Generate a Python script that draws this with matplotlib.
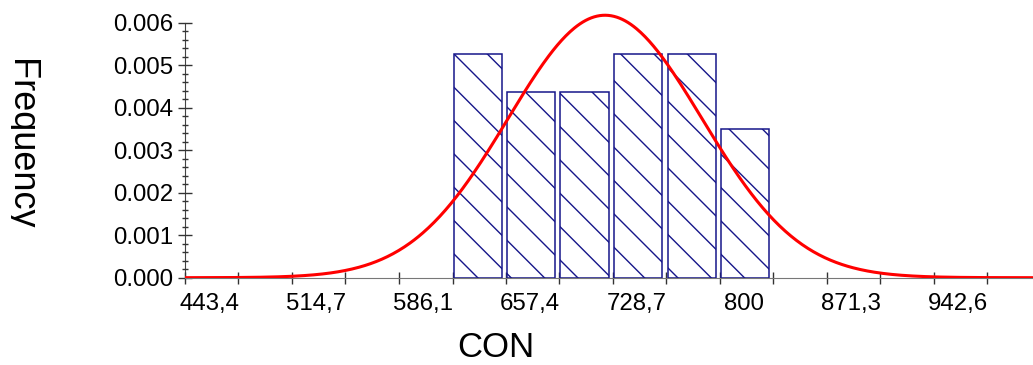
import numpy as np
import matplotlib
matplotlib.use("Agg")
import matplotlib.pyplot as plt
from matplotlib import font_manager
from matplotlib.transforms import ScaledTranslation, Bbox
from matplotlib.ticker import FixedLocator

plt.rcParams["font.family"] = ["Liberation Sans", "DejaVu Sans"]
plt.rcParams["hatch.linewidth"] = 1.0

# histogram of CON (density scale)
bin_left = [621.7, 657.4, 693.0, 728.7, 764.4, 800.0]
bin_width = 35.65
density = [0.00526, 0.00438, 0.00438, 0.00526, 0.00526, 0.00351]

# fitted normal curve
fit_mean = 723.4
fit_sd = 64.6

x_ticks = [443.4, 514.7, 586.1, 657.4, 728.7, 800.0, 871.3, 942.6]
x_labels = ["443,4", "514,7", "586,1", "657,4", "728,7", "800", "871,3", "942,6"]
y_ticks = [0.000, 0.001, 0.002, 0.003, 0.004, 0.005, 0.006]
y_labels = ["0.000", "0.001", "0.002", "0.003", "0.004", "0.005", "0.006"]

fig = plt.figure(figsize=(10.33, 3.65), dpi=100)
ax = fig.add_axes([185 / 1033, 87.3 / 365, 848 / 1033, 272 / 365])

navy = "#16168a"
ax.bar(np.array(bin_left) + 0.7, density, width=bin_width - 3.4, align="edge",
       color="white", edgecolor=navy, hatch="\\", linewidth=1.1, zorder=2)

xs = np.linspace(443.4, 1008.7, 600)
pdf = np.exp(-0.5 * ((xs - fit_mean) / fit_sd) ** 2) / (fit_sd * np.sqrt(2 * np.pi))
ax.plot(xs, pdf, color="#ff0000", lw=2.2, zorder=3, solid_capstyle="butt")

ax.set_xlim(443.4, 1008.7)
ax.set_ylim(0, 0.0064)

for s in ("top", "right"):
    ax.spines[s].set_visible(False)
ax.spines["left"].set_bounds(0, 0.006)
ax.spines["left"].set_color("#444444")
ax.spines["bottom"].set_color("#777777")
ax.spines["left"].set_zorder(1)

ax.set_yticks(y_ticks)
ax.set_yticklabels(y_labels)
minor_y = [v / 10000 for v in range(0, 61, 2) if v % 10]
ax.yaxis.set_minor_locator(FixedLocator(minor_y))
ax.tick_params(axis="y", which="major", direction="inout", length=10, width=1,
               color="#333333", pad=3.6, labelsize=17.3)
ax.tick_params(axis="y", which="minor", direction="inout", length=4.5, width=1,
               color="#333333")

ax.set_xticks(x_ticks)
ax.set_xticklabels(x_labels)
ax.set_xticks([t + 35.65 for t in x_ticks], minor=True)
ax.tick_params(axis="x", which="both", direction="inout", length=8.6, width=1,
               color="#333333", pad=6.8, labelsize=17.3)
shift = ScaledTranslation(0.24, 0, fig.dpi_scale_trans)
for lab in ax.get_xticklabels():
    lab.set_transform(lab.get_transform() + shift)

fig.text(496 / 1033, (365 - 356.7) / 365, "CON", ha="center", va="baseline",
         fontsize=25)

# narrow face for the rotated axis title when one is installed
names = {f.name for f in font_manager.fontManager.ttflist}
if "Liberation Sans Narrow" in names:
    ylab_family, ylab_size = ["Liberation Sans Narrow", "DejaVu Sans"], 30.5
else:
    ylab_family, ylab_size = ["Liberation Sans", "DejaVu Sans"], 26
ylab = fig.text(11 / 1033, (365 - 59) / 365, "Frequency", rotation=270,
                rotation_mode="anchor", ha="left", va="baseline",
                fontsize=ylab_size, family=ylab_family)
ylab.set_clip_box(Bbox([[11, 0], [1033, 365]]))
ylab.set_clip_on(True)

fig.savefig("out.png", dpi=100)
